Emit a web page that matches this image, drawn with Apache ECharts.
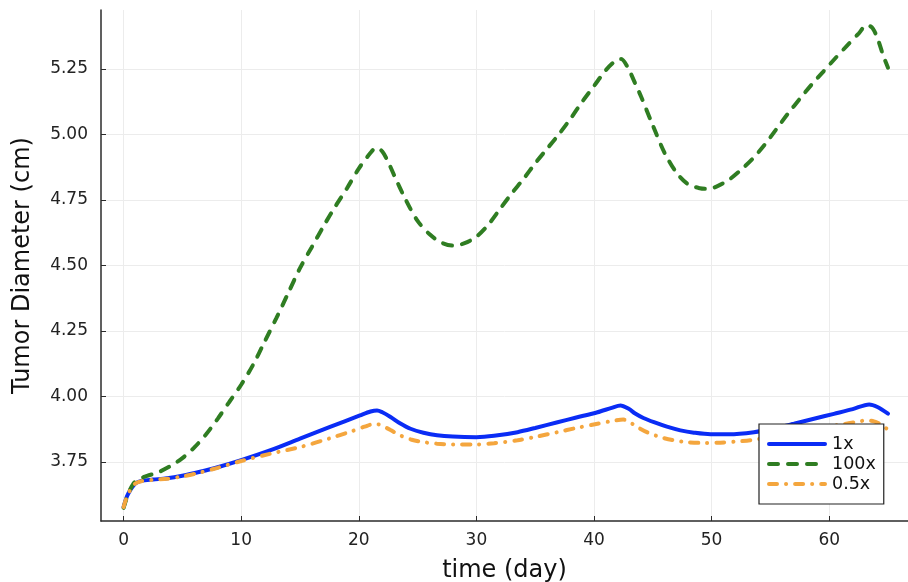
<!DOCTYPE html>
<html>
<head>
<meta charset="utf-8">
<script src="https://cdn.jsdelivr.net/npm/echarts@6/dist/echarts.min.js"></script>
<style>
  html, body { margin: 0; padding: 0; background: #fff; }
  #chart { width: 908px; height: 582px; }
</style>
</head>
<body>
<div id="chart"></div>
<script>
// readings: [day, diameter]
const dose1x = [
  [0, 3.578], [0.3, 3.62], [0.6, 3.645], [1, 3.668], [1.5, 3.678], [2.5, 3.683], [3.7, 3.688],
  [5, 3.698], [6.5, 3.713], [8, 3.73], [10, 3.757], [12.5, 3.795], [15, 3.839], [17.5, 3.883],
  [20.1, 3.928], [21, 3.943], [21.55, 3.947], [22, 3.94], [22.7, 3.922], [23.5, 3.898],
  [24.4, 3.877], [25.5, 3.862], [26.65, 3.852], [28, 3.847], [30, 3.845], [31.5, 3.85],
  [33.5, 3.864], [35, 3.88], [36.9, 3.902], [38.5, 3.92], [40.3, 3.94], [41.5, 3.957],
  [42.25, 3.966], [42.95, 3.953], [43.5, 3.935], [44.2, 3.918], [45.1, 3.902], [46.2, 3.885],
  [47.35, 3.871], [48.5, 3.862], [49.9, 3.856], [51.5, 3.856], [53.6, 3.864], [55.3, 3.878],
  [57, 3.896], [58.7, 3.915], [60.4, 3.934], [62, 3.952], [63.4, 3.97], [64.1, 3.96], [65, 3.935]
];
const dose100x = [
  [0, 3.575], [0.4, 3.63], [0.8, 3.665], [1.2, 3.683], [2, 3.697], [3, 3.712], [4, 3.735],
  [5, 3.765], [6, 3.805], [7, 3.855], [8, 3.915], [9, 3.98], [10, 4.045], [11, 4.12],
  [12, 4.21], [13, 4.3], [14, 4.395], [15, 4.49], [16, 4.57], [17, 4.65], [18, 4.725],
  [19, 4.795], [20, 4.87], [21, 4.93], [21.5, 4.95], [22, 4.935], [22.5, 4.895], [23, 4.845],
  [24, 4.75], [25, 4.67], [26, 4.62], [27, 4.588], [28, 4.576], [29, 4.585], [30, 4.61],
  [31, 4.655], [32, 4.715], [33, 4.775], [34, 4.83], [35, 4.89], [36, 4.945], [37, 5.0],
  [38, 5.06], [39, 5.125], [40, 5.185], [41, 5.245], [41.8, 5.28], [42.3, 5.288], [42.8, 5.262],
  [43.5, 5.195], [44, 5.145], [45, 5.035], [46, 4.93], [47, 4.855], [48, 4.81], [49, 4.795],
  [49.7, 4.792], [50.5, 4.803], [51.5, 4.828], [52.5, 4.865], [53.5, 4.908], [54.5, 4.96],
  [55.5, 5.02], [56.5, 5.08], [57.5, 5.136], [58.5, 5.19], [59.5, 5.24], [60.5, 5.29],
  [61.5, 5.338], [62.5, 5.385], [63.2, 5.418], [63.7, 5.405], [64.2, 5.355], [64.6, 5.3], [65, 5.255]
];
const dose05x = [
  [0, 3.578], [0.3, 3.62], [0.6, 3.645], [1, 3.668], [1.5, 3.677], [2.5, 3.682], [3.7, 3.686],
  [5, 3.695], [6.5, 3.71], [8, 3.728], [10, 3.754], [12.5, 3.782], [15, 3.807], [17.5, 3.84],
  [19.3, 3.866], [20.5, 3.885], [21.4, 3.896], [22, 3.888], [22.7, 3.872], [23.5, 3.852],
  [24.5, 3.835], [25.5, 3.826], [26.65, 3.82], [28, 3.817], [30, 3.817], [31.5, 3.822],
  [33.5, 3.833], [35, 3.846], [36.9, 3.864], [38.5, 3.88], [40.3, 3.896], [41.5, 3.906],
  [42.5, 3.912], [43.1, 3.9], [43.7, 3.883], [44.6, 3.862], [45.65, 3.845], [46.7, 3.834],
  [47.9, 3.826], [49.3, 3.823], [50.75, 3.824], [52, 3.828], [53.3, 3.833], [55, 3.846],
  [57, 3.862], [59, 3.878], [61, 3.893], [62.3, 3.903], [63.2, 3.909], [63.8, 3.905],
  [64.4, 3.893], [64.9, 3.877]
];
const xTicks = [0, 10, 20, 30, 40, 50, 60];
const yTicks = [3.75, 4.0, 4.25, 4.5, 4.75, 5.0, 5.25];

const font = 'DejaVu Sans';
const blue = '#0a2cf5', green = '#2f7d22', orange = '#f4a63e';
const dash100 = [9, 10];
const dash05 = [8, 9, 0.1, 9];

const chart = echarts.init(document.getElementById('chart'));

function lineSeries(name, data, color, type) {
  return {
    name: name,
    type: 'line',
    data: data,
    showSymbol: false,
    symbol: 'none',
    smooth: 0.3,
    lineStyle: { color: color, width: 4, type: type, cap: 'round' },
    itemStyle: { color: color }
  };
}

function legendItem(name, color, type) {
  return {
    name: name,
    itemStyle: { opacity: 0, color: color, borderWidth: 0 },
    lineStyle: { color: color, width: 4, type: type, cap: 'round' }
  };
}

chart.setOption({
  animation: false,
  grid: { left: 101, right: 0, top: 10, bottom: 61, outerBoundsMode: 'none' },
  xAxis: {
    type: 'value',
    min: -1.92,
    max: 66.7,
    name: 'time (day)',
    nameLocation: 'middle',
    nameGap: 38,
    nameTextStyle: { fontFamily: font, fontSize: 24, color: '#111' },
    axisLine: { onZero: false, lineStyle: { color: '#2b2b2b', width: 1.5 } },
    axisTick: { inside: true, length: 5, customValues: xTicks, lineStyle: { color: '#2b2b2b' } },
    axisLabel: { customValues: xTicks, fontFamily: font, fontSize: 17, color: '#222', margin: 11 },
    splitLine: { show: true, lineStyle: { color: '#ececec', width: 1 } }
  },
  yAxis: {
    type: 'value',
    min: 3.525,
    max: 5.475,
    name: 'Tumor Diameter (cm)',
    nameLocation: 'middle',
    nameGap: 66,
    nameTextStyle: { fontFamily: font, fontSize: 24, color: '#111' },
    axisLine: { show: true, onZero: false, lineStyle: { color: '#2b2b2b', width: 1.5 } },
    axisTick: { show: true, inside: true, length: 5, customValues: yTicks, lineStyle: { color: '#2b2b2b' } },
    axisLabel: {
      customValues: yTicks, fontFamily: font, fontSize: 17, color: '#222', margin: 13,
      formatter: v => v.toFixed(2)
    },
    splitLine: { show: true, lineStyle: { color: '#ececec', width: 1 } }
  },
  legend: {
    left: 759,
    top: 424,
    orient: 'vertical',
    itemWidth: 56,
    itemHeight: 18,
    itemGap: 2,
    padding: [11, 8, 11, 8],
    borderColor: '#222',
    borderWidth: 1.2,
    borderRadius: 0,
    backgroundColor: '#fff',
    textStyle: { fontFamily: font, fontSize: 17.5, lineHeight: 18, color: '#111', padding: [0, 0, 0, 2] },
    data: [
      legendItem('1x', blue, 'solid'),
      legendItem('100x', green, dash100),
      legendItem('0.5x', orange, dash05)
    ]
  },
  series: [
    lineSeries('1x', dose1x, blue, 'solid'),
    lineSeries('100x', dose100x, green, dash100),
    lineSeries('0.5x', dose05x, orange, dash05)
  ]
});
</script>
</body>
</html>
